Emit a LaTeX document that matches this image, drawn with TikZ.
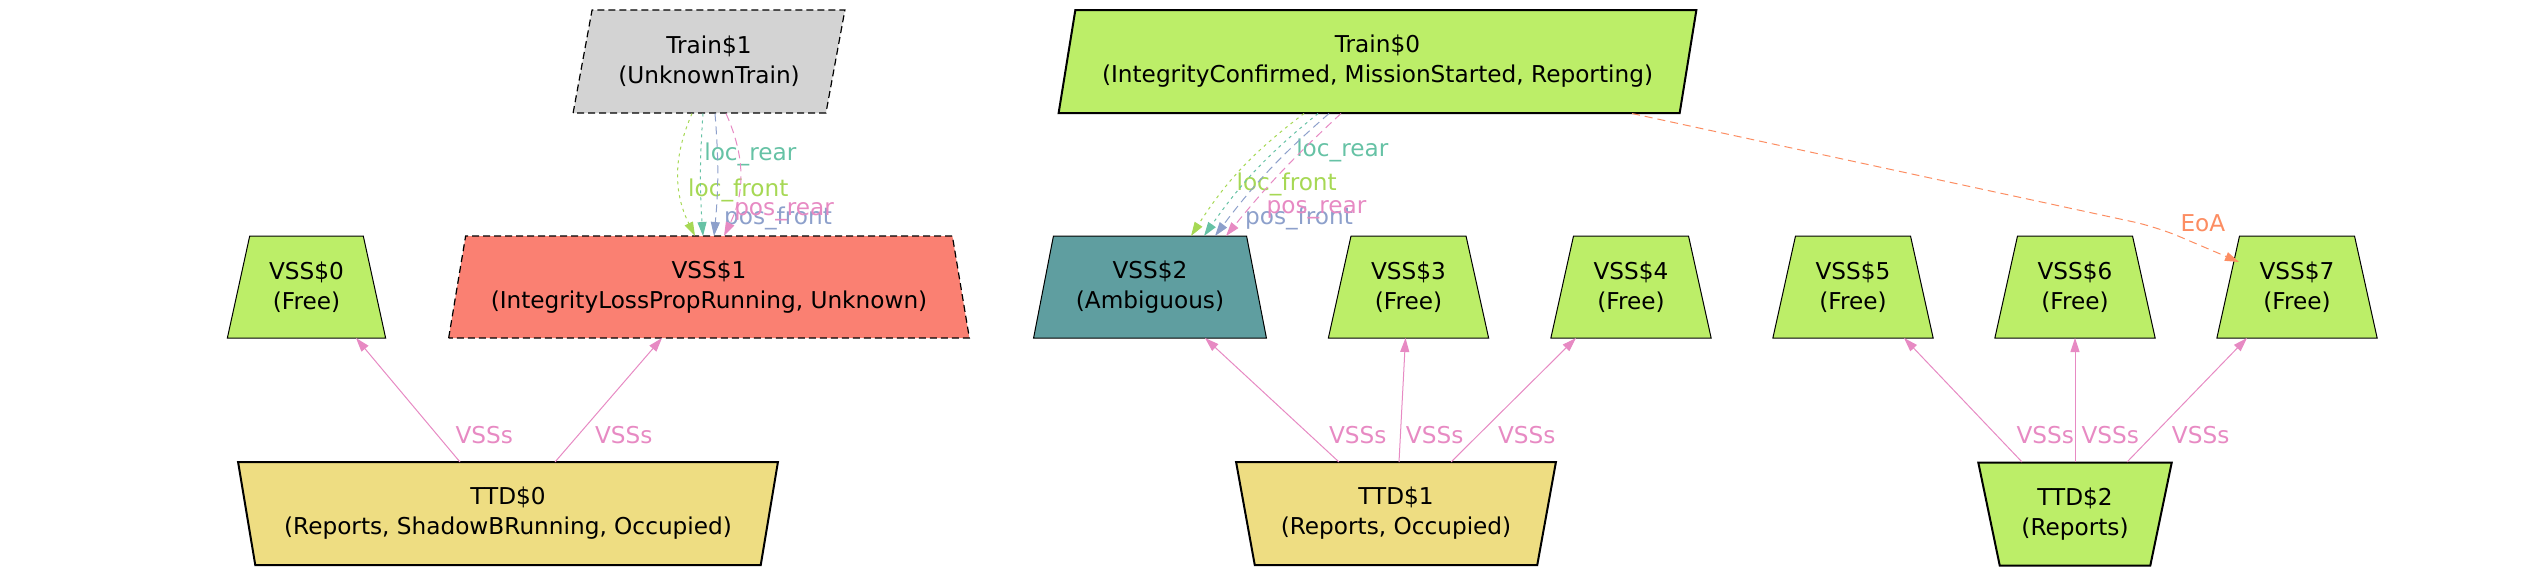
\documentclass[tikz,border=0pt]{standalone}
\usepackage{fontspec}
\setmainfont{DejaVu Sans}
\usetikzlibrary{shapes.geometric,calc,arrows.meta}

\definecolor{olivegreen}{HTML}{BCEE68}
\definecolor{goldenrod}{HTML}{EEDD82}
\definecolor{salmonred}{HTML}{FA8072}
\definecolor{cadet}{HTML}{5F9EA0}
\definecolor{greylight}{HTML}{D3D3D3}
\definecolor{setteal}{HTML}{66C2A5}
\definecolor{setorange}{HTML}{FC8D62}
\definecolor{setblue}{HTML}{8DA0CB}
\definecolor{setpink}{HTML}{E78AC3}
\definecolor{setgreen}{HTML}{A6D854}

\begin{document}
\begin{tikzpicture}[x=0.5pt, y=-0.5pt,
    every node/.style={font=\fontsize{11.6}{15}\selectfont, align=center},
    train/.style={trapezium, trapezium left angle=73.8, trapezium right angle=106.2,
                  trapezium stretches=true, minimum height=51.5pt, draw, inner sep=0pt},
    vss/.style={trapezium, trapezium left angle=73.8, trapezium right angle=73.8,
                trapezium stretches=true, minimum height=51pt, draw, line width=0.5pt, inner sep=0pt},
    ttd/.style={trapezium, trapezium left angle=106.2, trapezium right angle=106.2,
                trapezium stretches=true, minimum height=51.5pt, draw, line width=1pt, inner sep=0pt},
    dashborder/.style={dash pattern=on 3.5pt off 2pt, line width=0.6pt},
    link/.style={line width=0.5pt, -{Triangle[length=7pt, width=4.5pt]}},
    dotlink/.style={link, dash pattern=on 1.5pt off 2pt},
    dashlink/.style={link, dash pattern=on 4pt off 2.5pt},
    lbl/.style={inner sep=0pt, anchor=west},
  ]
  \useasboundingbox (0,0) rectangle (2542,575);

  % trains
  \node[train, fill=greylight, dashborder, minimum width=136pt] (train1) at (709,61.5)
    {Train\$1\\(UnknownTrain)};
  \node[train, fill=olivegreen, line width=1pt, minimum width=319.5pt] (train0) at (1377.5,61.5)
    {Train\$0\\(IntegrityConfirmed, MissionStarted, Reporting)};

  % virtual sub-sections
  \node[vss, fill=olivegreen, minimum width=79.5pt] (vss0) at (306.5,287) {VSS\$0\\(Free)};
  \node[vss, fill=salmonred, dashborder, minimum width=261pt] (vss1) at (709,287)
    {VSS\$1\\(IntegrityLossPropRunning, Unknown)};
  \node[vss, fill=cadet, minimum width=117.5pt] (vss2) at (1150,287) {VSS\$2\\(Ambiguous)};
  \foreach \i/\x in {3/1408.5, 4/1631, 5/1853, 6/2075, 7/2297}
    \node[vss, fill=olivegreen, minimum width=80.5pt] (vss\i) at (\x,287) {VSS\$\i\\(Free)};

  % track sections
  \node[ttd, fill=goldenrod, minimum width=270pt] (ttd0) at (508,513.5)
    {TTD\$0\\(Reports, ShadowBRunning, Occupied)};
  \node[ttd, fill=goldenrod, minimum width=160pt] (ttd1) at (1396,513.5)
    {TTD\$1\\(Reports, Occupied)};
  \node[ttd, fill=olivegreen, minimum width=97pt] (ttd2) at (2075,514)
    {TTD\$2\\(Reports)};

  % train 1 -> VSS 1
  \draw[dotlink, setgreen] ($(train1.center)+(-17,52)$) to[bend right=25]
    node[lbl, text=setgreen, pos=0.63, xshift=4pt] {loc\_front} ($(vss1.center)+(-14,-51)$);
  \draw[dotlink, setteal] ($(train1.center)+(-6,52)$) to[bend right=4]
    node[lbl, text=setteal, pos=0.32, xshift=1.5pt] {loc\_rear} ($(vss1.center)+(-6,-51)$);
  \draw[dashlink, setblue] ($(train1.center)+(6,52)$) to[bend left=5]
    node[lbl, text=setblue, pos=0.87, xshift=4pt] {pos\_front} ($(vss1.center)+(5,-51)$);
  \draw[dashlink, setpink] ($(train1.center)+(17,52)$) to[bend left=25]
    node[lbl, text=setpink, pos=0.81, xshift=0pt] {pos\_rear} ($(vss1.center)+(15,-51)$);

  % train 0 -> VSS 2
  \draw[dotlink, setgreen] ($(train0.center)+(-73.5,52)$) to[bend right=10]
    node[lbl, text=setgreen, pos=0.63, xshift=4pt] {loc\_front} ($(vss2.center)+(41,-51)$);
  \draw[dotlink, setteal] ($(train0.center)+(-59.5,52)$) to[bend right=8]
    node[lbl, text=setteal, pos=0.32, xshift=10pt] {loc\_rear} ($(vss2.center)+(54,-51)$);
  \draw[dashlink, setblue] ($(train0.center)+(-48.5,52)$) to[bend right=6]
    node[lbl, text=setblue, pos=0.88, xshift=8pt] {pos\_front} ($(vss2.center)+(65,-51)$);
  \draw[dashlink, setpink] ($(train0.center)+(-36.5,52)$) to[bend right=4]
    node[lbl, text=setpink, pos=0.81, xshift=9pt] {pos\_rear} ($(vss2.center)+(76,-51)$);

  % end of authority
  \coordinate (eoabend) at (2157,227);
  \draw[dashlink, setorange, rounded corners=12pt] ($(train0.center)+(254.5,52)$) -- (eoabend)
    node[lbl, text=setorange, xshift=11.5pt, yshift=2pt] {EoA} -- ($(vss7.center)+(-58,-25)$);

  % TTD -> VSS
  \draw[link, setpink] ($(ttd0.center)+(-48,-51.5)$) --
    node[lbl, text=setpink, pos=0.22, xshift=9pt] {VSSs} ($(vss0.center)+(49.5,51)$);
  \draw[link, setpink] ($(ttd0.center)+(47,-51.5)$) --
    node[lbl, text=setpink, pos=0.22, xshift=8pt] {VSSs} ($(vss1.center)+(-47,51)$);
  \draw[link, setpink] ($(ttd1.center)+(-57,-51.5)$) --
    node[lbl, text=setpink, pos=0.22, xshift=9.5pt] {VSSs} ($(vss2.center)+(55,51)$);
  \draw[link, setpink] ($(ttd1.center)+(3,-51.5)$) --
    node[lbl, text=setpink, pos=0.22, xshift=2.5pt] {VSSs} ($(vss3.center)+(-3,51)$);
  \draw[link, setpink] ($(ttd1.center)+(55,-51.5)$) --
    node[lbl, text=setpink, pos=0.22, xshift=9.5pt] {VSSs} ($(vss4.center)+(-55,51)$);
  \draw[link, setpink] ($(ttd2.center)+(-53,-52)$) --
    node[lbl, text=setpink, pos=0.22, xshift=10pt] {VSSs} ($(vss5.center)+(51,51)$);
  \draw[link, setpink] ($(ttd2.center)+(0,-52)$) --
    node[lbl, text=setpink, pos=0.22, xshift=3pt] {VSSs} ($(vss6.center)+(0,51)$);
  \draw[link, setpink] ($(ttd2.center)+(52,-52)$) --
    node[lbl, text=setpink, pos=0.22, xshift=9pt] {VSSs} ($(vss7.center)+(-50,51)$);
\end{tikzpicture}
\end{document}
